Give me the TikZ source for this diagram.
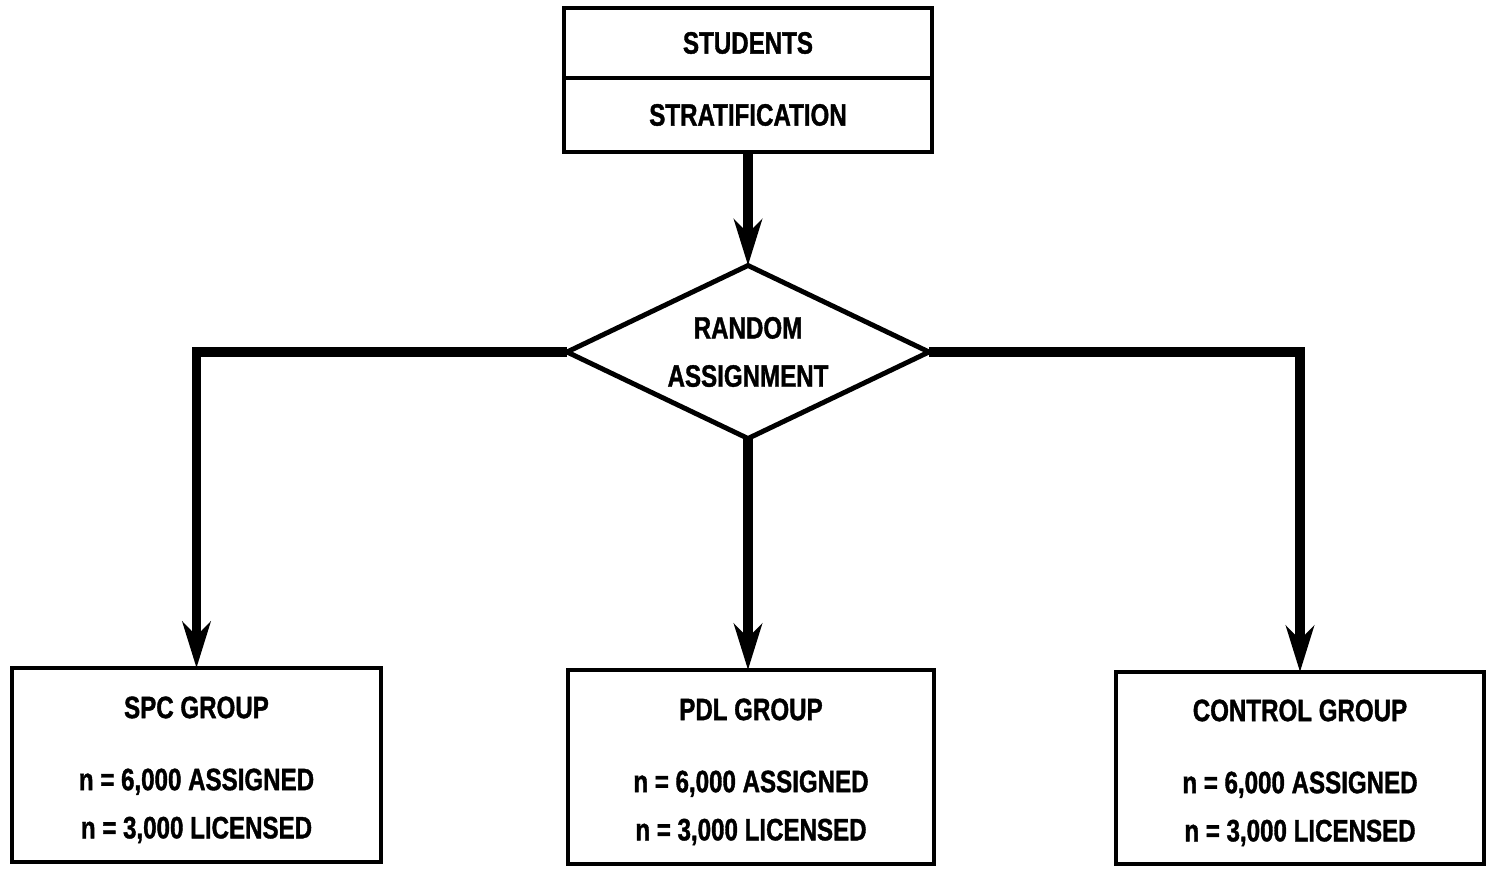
\documentclass[tikz,border=0pt]{standalone}
\usepackage{fontspec}
\setmainfont{Liberation Sans}[FakeStretch=0.78, BoldFeatures={FakeBold=1.2}]
\usepackage{tikz}
\usetikzlibrary{positioning,shapes.geometric,arrows.meta}

\tikzset{
    blocco/.style={draw, line width=1.4pt, inner sep=0pt, outer sep=0pt, align=center, font=\bfseries\fontsize{8.8}{13.7}\selectfont},
    rombo/.style={diamond, draw, line width=1.4pt, inner sep=0pt, outer sep=0pt, aspect=2.1, minimum width=3.62cm, minimum height=1.73cm, align=center, font=\bfseries\fontsize{8.8}{13.7}\selectfont},
    freccia/.style={line width=2.8pt, -{Stealth[length=4.6mm, width=2.8mm, inset=1.4mm]}}
}

\begin{document}
\begin{tikzpicture}
    \useasboundingbox (0,0) rectangle (14.88,8.72);
    \node[blocco, minimum width=3.68cm, minimum height=0.70cm] (stud) at (7.48,8.29) {STUDENTS};
    \node[blocco, minimum width=3.68cm, minimum height=0.74cm, below=0pt of stud] (strat) {STRATIFICATION};
    \node[rombo] (rand) at (7.48,5.20) {RANDOM\\ASSIGNMENT}; %ASSEGNAZIONE
    \node[blocco, minimum width=3.69cm, minimum height=1.94cm] (spc) at (1.965,1.07) {\rule{0pt}{8.9pt}SPC GROUP\\[6.8pt]n = 6,000 ASSIGNED\\n = 3,000 LICENSED};
    \node[blocco, minimum width=3.66cm, minimum height=1.94cm] (pdl) at (7.51,1.05) {\rule{0pt}{8.9pt}PDL GROUP\\[6.8pt]n = 6,000 ASSIGNED\\n = 3,000 LICENSED};
    \node[blocco, minimum width=3.68cm, minimum height=1.92cm] (ctrl) at (13.00,1.04) {\rule{0pt}{8.9pt}CONTROL GROUP\\[6.8pt]n = 6,000 ASSIGNED\\n = 3,000 LICENSED};
    \draw[freccia] (strat.south) -- (rand.north);
    \draw[freccia] (rand.south) -- (rand.south |- pdl.north);
    \draw[freccia] (rand.west) -| (spc.north);
    \draw[freccia] (rand.east) -| (ctrl.north);
\end{tikzpicture}
\end{document}
